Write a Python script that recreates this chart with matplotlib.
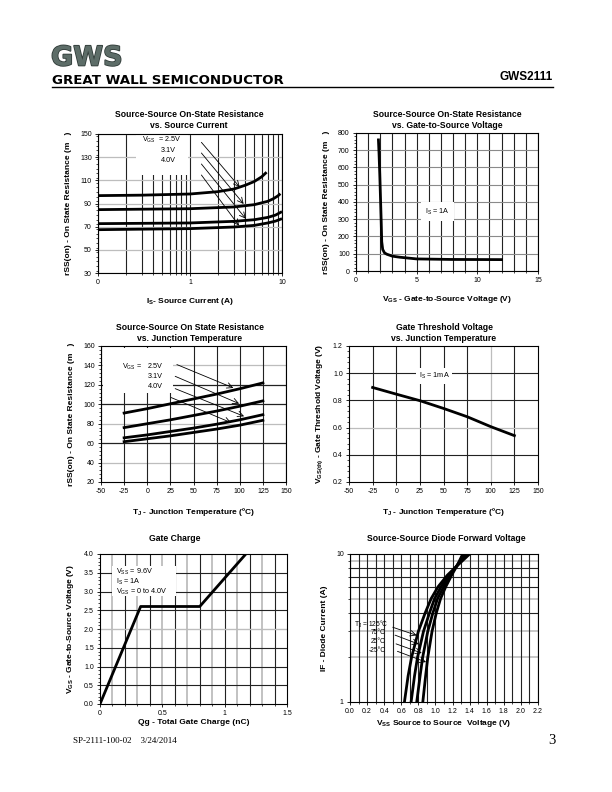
import matplotlib
matplotlib.use("Agg")
import matplotlib.pyplot as plt
from matplotlib.ticker import MultipleLocator, NullFormatter, LogLocator, FormatStrFormatter
from matplotlib.patches import Rectangle
import matplotlib.patheffects as pe

plt.rcParams['font.family'] = ['Liberation Sans', 'DejaVu Sans']
plt.rcParams['mathtext.fontset'] = 'custom'
plt.rcParams['mathtext.rm'] = 'Liberation Sans'
plt.rcParams['mathtext.it'] = 'Liberation Sans:italic'
plt.rcParams['mathtext.bf'] = 'Liberation Sans:bold'
plt.rcParams['mathtext.default'] = 'regular'
plt.rcParams['axes.unicode_minus'] = False

# ---------------- data ----------------
# Plot 1: rSS(on) vs source current
c1_is = [0.1, 0.3, 1, 2, 3, 4, 5, 6, 6.8]
c1_r = [96.8, 97.2, 98.2, 100.2, 102.5, 105.8, 109.0, 113.0, 117.0]
c2_is = [0.1, 1, 3, 5, 7, 8, 9, 9.6]
c2_r = [84.7, 85.5, 87.0, 89.0, 91.9, 94.0, 96.5, 98.5]
c3_is = [0.1, 1, 3, 5, 7, 8.5, 10]
c3_r = [72.6, 73.2, 74.6, 76.0, 78.0, 80.0, 83.0]
c4_is = [0.1, 1, 3, 5, 7, 8.5, 10]
c4_r = [67.4, 68.3, 69.7, 71.1, 73.2, 74.8, 76.9]
p1_vgs_labels = ["2.5V", "3.1V", "4.0V"]

# Plot 2: rSS(on) vs VGS
vgs2 = [1.85, 1.90, 1.96, 2.02, 2.08, 2.12, 2.2, 2.35, 2.55, 3.0, 3.6, 5.0, 7.8, 12.0]
r2 = [760, 680, 560, 420, 280, 170, 125, 105, 97, 86, 80, 70, 67, 66]

# Plot 3: rSS(on) vs junction temperature
tj3 = [-25, 0, 25, 50, 75, 100, 125]
t_r1 = [91.0, 95.5, 100.5, 105.5, 110.5, 116.0, 122.0]
t_r2 = [76.0, 80.0, 84.0, 88.5, 93.0, 98.0, 103.5]
t_r3 = [65.5, 68.5, 72.0, 75.5, 79.5, 84.0, 89.3]
t_r4 = [61.5, 64.5, 67.5, 71.0, 74.5, 78.5, 83.5]

# Plot 4: gate threshold vs TJ
tj4 = [-25, 0, 25, 50, 75, 100, 125]
vth = [0.895, 0.846, 0.798, 0.741, 0.680, 0.607, 0.541]

# Plot 5: gate charge
qg = [0, 0.326, 0.80, 1.17]
vgs5 = [0, 2.6, 2.6, 4.0]

# Plot 6: diode forward voltage
if_a = [1, 1.5, 2, 3, 4, 5, 6, 7.2, 8.5, 10]
vf_125 = [0.637, 0.680, 0.720, 0.800, 0.880, 0.950, 1.030, 1.140, 1.270, 1.400]
vf_75 = [0.715, 0.755, 0.790, 0.860, 0.930, 0.990, 1.065, 1.160, 1.265, 1.370]
vf_25 = [0.781, 0.820, 0.850, 0.910, 0.970, 1.025, 1.095, 1.175, 1.260, 1.350]
vf_m25 = [0.852, 0.885, 0.910, 0.960, 1.010, 1.060, 1.120, 1.190, 1.260, 1.320]
p6_temps = ["T$_J$ = 125°C", "75°C", "25°C", "-25°C"]

# ---------------- figure ----------------
W, H = 612, 792
fig = plt.figure(figsize=(W / 100, H / 100), dpi=100)


def ax_px(l, t, r, b):
    return fig.add_axes([l / W, 1 - b / H, (r - l) / W, (b - t) / H])


def ftxt(x, y, s, **kw):
    fig.text(x / W, 1 - y / H, s, **kw)


DARK = '#222222'
LIGHT = '#bdbdbd'
TFS = 6.2
LFS = 6.0
KFS = 5.0


def style(ax):
    for sp in ax.spines.values():
        sp.set_color('black')
        sp.set_linewidth(0.8)
    ax.tick_params(axis='both', which='major', labelsize=KFS, length=2.5, width=0.6, pad=2)
    ax.tick_params(axis='both', which='minor', length=1.5, width=0.5)
    ax.set_axisbelow(True)


lw_c = 2.0
arr = dict(arrowstyle='->', lw=0.6, color='black', shrinkA=0, shrinkB=0)

# ---------------- header ----------------
ftxt(51, 65.5, "GWS", fontsize=19.5, fontweight='bold', family='DejaVu Sans', color='#5d6d68',
     path_effects=[pe.withStroke(linewidth=1.2, foreground='#2f3a37')])
ftxt(52, 84.3, "GREAT WALL SEMICONDUCTOR", fontsize=9.6, fontweight='heavy', family='DejaVu Sans', color='black')
ftxt(553, 80, "GWS2111", fontsize=8.5, fontweight='bold', ha='right', color='black')
fig.add_artist(plt.Line2D([52 / W, 553 / W], [1 - 86.5 / H, 1 - 86.5 / H], color='black', lw=1.0))

# footer
ftxt(73, 743, "SP-2111-100-02    3/24/2014", fontsize=6.5, family='Liberation Serif')
ftxt(548, 744, "3", fontsize=10.5, family='Liberation Serif')

# ---------------- plot 1 ----------------
ax1 = ax_px(98, 134, 282, 273)
style(ax1)
ax1.set_xscale('log')
ax1.set_xlim(0.1, 10)
ax1.set_ylim(30, 150)
ax1.set_xticks([0.1, 1, 10], ["0", "1", "10"])
ax1.xaxis.set_minor_locator(LogLocator(base=10, subs=[2, 3, 4, 5, 6, 7, 8, 9]))
ax1.xaxis.set_minor_formatter(NullFormatter())
ax1.set_yticks(range(30, 151, 20))
ax1.yaxis.set_minor_locator(MultipleLocator(4))
ax1.grid(axis='x', which='both', color=DARK, lw=0.8)
ax1.grid(axis='y', which='major', color=LIGHT, lw=0.9)
ax1.add_patch(Rectangle((0.26, 115), 0.95 - 0.26, 35, facecolor='white', edgecolor='none', zorder=1.5))
for xs, ys in [(c1_is, c1_r), (c2_is, c2_r), (c3_is, c3_r), (c4_is, c4_r)]:
    ax1.plot(xs, ys, color='black', lw=lw_c, zorder=3, solid_capstyle='butt')
ax1.text(0.30, 143.5, "V$_{GS}$  = " + p1_vgs_labels[0], fontsize=5.2, zorder=4)
ax1.text(0.70, 134.5, p1_vgs_labels[1], fontsize=5.2, ha='right', zorder=4)
ax1.text(0.70, 126.0, p1_vgs_labels[2], fontsize=5.2, ha='right', zorder=4)
for (x0, y0), (x1, y1) in [((1.33, 142.8), (3.47, 104.2)), ((1.33, 133.6), (3.83, 89.6)),
                           ((1.33, 124.1), (4.03, 76.9)), ((1.33, 114.6), (3.41, 70.9))]:
    ax1.annotate("", xy=(x1, y1), xytext=(x0, y0), arrowprops=arr, zorder=4)
ftxt(189, 117, "Source-Source On-State Resistance", fontsize=TFS, fontweight='bold', ha='center')
ftxt(189, 128, "vs. Source Current", fontsize=TFS, fontweight='bold', ha='center')
ax1.set_xlabel("I$_S$- Source Current (A)", fontsize=LFS, fontweight='bold', labelpad=7)
ax1.set_ylabel("rSS(on) - On State Resistance (m   )", fontsize=LFS, fontweight='bold', labelpad=6)

# ---------------- plot 2 ----------------
ax2 = ax_px(356, 133, 538, 271)
style(ax2)
ax2.set_xlim(0, 15)
ax2.set_ylim(0, 800)
ax2.set_xticks([0, 5, 10, 15])
ax2.xaxis.set_minor_locator(MultipleLocator(1))
ax2.set_yticks(range(0, 801, 100))
ax2.yaxis.set_minor_locator(MultipleLocator(20))
ax2.grid(axis='x', which='both', color=DARK, lw=0.8)
ax2.grid(axis='y', which='major', color='#8a8a8a', lw=0.8)
ax2.plot(vgs2, r2, color='black', lw=lw_c, zorder=3)
ax2.text(5.7, 345, "I$_S$ = 1A", fontsize=5.2, va='center', zorder=4,
         bbox=dict(facecolor='white', edgecolor='none', pad=3))
ftxt(447, 117, "Source-Source On-State Resistance", fontsize=TFS, fontweight='bold', ha='center')
ftxt(447, 128, "vs. Gate-to-Source Voltage", fontsize=TFS, fontweight='bold', ha='center')
ax2.set_xlabel("V$_{GS}$ - Gate-to-Source Voltage (V)", fontsize=LFS, fontweight='bold', labelpad=7)
ax2.set_ylabel("rSS(on) - On State Resistance (m   )", fontsize=LFS, fontweight='bold', labelpad=6)

# ---------------- plot 3 ----------------
ax3 = ax_px(101, 346, 286, 482)
style(ax3)
ax3.set_xlim(-50, 150)
ax3.set_ylim(20, 160)
ax3.set_xticks(range(-50, 151, 25))
ax3.set_yticks(range(20, 161, 20))
ax3.yaxis.set_minor_locator(MultipleLocator(4))
ax3.grid(axis='x', which='major', color=DARK, lw=0.8)
for yv, c in zip([40, 60, 80, 100, 120, 140], [LIGHT, DARK, LIGHT, DARK, DARK, LIGHT]):
    ax3.axhline(yv, color=c, lw=0.9, zorder=0.5)
ax3.add_patch(Rectangle((-48, 112), 76, 46, facecolor='white', edgecolor='none', zorder=1.5))
for ys in [t_r1, t_r2, t_r3, t_r4]:
    ax3.plot(tj3, ys, color='black', lw=lw_c, zorder=3)
ax3.text(-27, 137, "V$_{GS}$ =", fontsize=5.2, zorder=4)
ax3.text(0.5, 137, p1_vgs_labels[0], fontsize=5.2, zorder=4)
ax3.text(0.5, 126.8, p1_vgs_labels[1], fontsize=5.2, zorder=4)
ax3.text(0.5, 116.3, p1_vgs_labels[2], fontsize=5.2, zorder=4)
for (x0, y0), (x1, y1) in [((32, 140.9), (93.1, 116.8)), ((30.2, 128.8), (99.3, 100.7)),
                           ((30.2, 116.1), (104.7, 87.6)), ((25.9, 106.9), (90.6, 81.1))]:
    ax3.annotate("", xy=(x1, y1), xytext=(x0, y0), arrowprops=arr, zorder=4)
ftxt(190, 330, "Source-Source On State Resistance", fontsize=TFS, fontweight='bold', ha='center')
ftxt(190, 341, "vs. Junction Temperature", fontsize=TFS, fontweight='bold', ha='center')
ax3.set_xlabel("T$_J$ - Junction Temperature (ºC)", fontsize=LFS, fontweight='bold', labelpad=8)
ax3.set_ylabel("rSS(on) - On State Resistance (m   )", fontsize=LFS, fontweight='bold', labelpad=6)

# ---------------- plot 4 ----------------
ax4 = ax_px(349, 346, 538, 482)
style(ax4)
ax4.set_xlim(-50, 150)
ax4.set_ylim(0.2, 1.2)
ax4.set_xticks(range(-50, 151, 25))
ax4.set_yticks([0.2, 0.4, 0.6, 0.8, 1.0, 1.2])
ax4.yaxis.set_minor_locator(MultipleLocator(0.04))
for xv in range(-25, 126, 25):
    ax4.axvline(xv, color=LIGHT if xv == 100 else DARK, lw=0.9 if xv == 100 else 0.8, zorder=0.5)
for yv in [0.4, 0.6, 0.8, 1.0]:
    is_l = abs(yv - 0.6) < 1e-9
    ax4.axhline(yv, color=LIGHT if is_l else DARK, lw=0.9 if is_l else 0.8, zorder=0.5)
ax4.plot(tj4, vth, color='black', lw=lw_c, zorder=3)
ax4.text(40, 0.978, "I$_S$ = 1mA", fontsize=5.2, ha='center', va='center', zorder=4,
         bbox=dict(facecolor='white', edgecolor='none', pad=2))
ftxt(444, 330, "Gate Threshold Voltage", fontsize=TFS, fontweight='bold', ha='center')
ftxt(444, 341, "vs. Junction Temperature", fontsize=TFS, fontweight='bold', ha='center')
ax4.set_xlabel("T$_J$ - Junction Temperature (ºC)", fontsize=LFS, fontweight='bold', labelpad=8)
ax4.set_ylabel("V$_{GS(th)}$ - Gate Threshold Voltage (V)", fontsize=LFS, fontweight='bold', labelpad=6)

# ---------------- plot 5 ----------------
ax5 = ax_px(100, 554, 287, 704)
style(ax5)
ax5.set_xlim(0, 1.5)
ax5.set_ylim(0, 4.0)
ax5.set_xticks([0, 0.5, 1, 1.5], ["0", "0.5", "1", "1.5"])
ax5.set_yticks([0.0, 0.5, 1.0, 1.5, 2.0, 2.5, 3.0, 3.5, 4.0])
ax5.yaxis.set_major_formatter(FormatStrFormatter('%.1f'))
ax5.yaxis.set_minor_locator(MultipleLocator(0.1))
ax5.xaxis.set_minor_locator(MultipleLocator(0.1))
for i in range(1, 15):
    light = (i % 2 == 1)
    ax5.axvline(i / 10, color=LIGHT if light else DARK, lw=1.3 if light else 0.8, zorder=0.5)
for i in range(1, 8):
    ax5.axhline(i * 0.5, color=LIGHT if i == 4 else DARK, lw=1.0 if i == 4 else 0.8, zorder=0.5)
ax5.add_patch(Rectangle((0.10, 2.87), 0.51, 0.8, facecolor='white', edgecolor='none', zorder=1.5))
ax5.plot(qg, vgs5, color='black', lw=lw_c, zorder=3)
ax5.text(0.125, 3.53, "V$_{SS}$ = 9.6V", fontsize=5.2, va='center', zorder=4)
ax5.text(0.125, 3.25, "I$_S$ = 1A", fontsize=5.2, va='center', zorder=4)
ax5.text(0.125, 3.0, "V$_{GS}$ = 0 to 4.0V", fontsize=5.2, va='center', zorder=4)
ftxt(175, 541, "Gate Charge", fontsize=TFS, fontweight='bold', ha='center')
ax5.set_xlabel("Qg - Total Gate Charge (nC)", fontsize=LFS, fontweight='bold', labelpad=1)
ax5.set_ylabel("V$_{GS}$ - Gate-to-Source Voltage (V)", fontsize=LFS, fontweight='bold', labelpad=6)

# ---------------- plot 6 ----------------
ax6 = ax_px(350, 554, 538, 702)
style(ax6)
ax6.set_yscale('log')
ax6.set_xlim(0, 2.2)
ax6.set_ylim(1, 10)
ax6.set_xticks([i / 5 for i in range(12)])
ax6.xaxis.set_major_formatter(FormatStrFormatter('%.1f'))
ax6.set_yticks([1, 10], ["1", "10"])
ax6.yaxis.set_minor_locator(LogLocator(base=10, subs=[2, 3, 4, 5, 6, 7, 8, 9]))
ax6.yaxis.set_minor_formatter(NullFormatter())
ax6.xaxis.set_minor_locator(MultipleLocator(0.1))
ax6.grid(axis='x', which='both', color=DARK, lw=0.8)
for yv in range(2, 10):
    light = yv in (2, 3, 5, 9)
    ax6.axhline(yv, color=LIGHT if light else DARK, lw=1.2 if light else 0.8, zorder=0.5)
for xs in [vf_125, vf_75, vf_25, vf_m25]:
    ax6.plot(xs, if_a, color='black', lw=lw_c, zorder=3)
ax6.text(0.05, 3.37, p6_temps[0], fontsize=4.8, va='center', zorder=4)
ax6.text(0.42, 2.93, p6_temps[1], fontsize=4.8, va='center', ha='right', zorder=4)
ax6.text(0.42, 2.56, p6_temps[2], fontsize=4.8, va='center', ha='right', zorder=4)
ax6.text(0.42, 2.24, p6_temps[3], fontsize=4.8, va='center', ha='right', zorder=4)
for (x0, y0), (x1, y1) in [((0.50, 3.2), (0.78, 2.82)), ((0.527, 2.83), (0.805, 2.46)),
                           ((0.539, 2.47), (0.84, 2.14)), ((0.555, 2.2), (0.89, 1.86))]:
    ax6.annotate("", xy=(x1, y1), xytext=(x0, y0), arrowprops=arr, zorder=4)
ftxt(446, 541, "Source-Source Diode Forward Voltage", fontsize=TFS, fontweight='bold', ha='center')
ax6.set_xlabel("V$_{SS}$ Source to Source  Voltage (V)", fontsize=LFS, fontweight='bold', labelpad=2)
ax6.set_ylabel("IF - Diode Current (A)", fontsize=LFS, fontweight='bold', labelpad=6)

fig.savefig("out.png", dpi=100)
